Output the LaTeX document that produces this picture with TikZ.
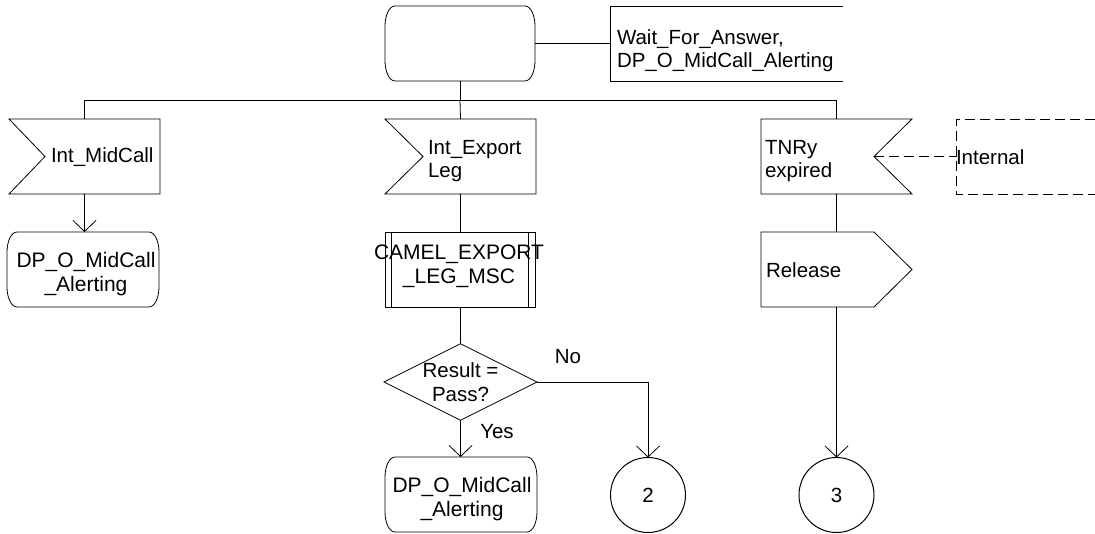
\documentclass[tikz,border=0pt]{standalone}
\usepackage{fontspec}
\setmainfont{Liberation Sans}
\usetikzlibrary{shapes.geometric,arrows.meta,calc}
\newcommand\drawstateoutline[1]{%
  \draw[ln] ($(#1.north west)+(10,0)$) -- ($(#1.north east)-(10,0)$)
    .. controls ($(#1.north east)-(4,0)$) and ($(#1.north east)+(0,10)$) .. ($(#1.north east)+(0,20)$)
    -- ($(#1.south east)-(0,20)$)
    .. controls ($(#1.south east)-(0,10)$) and ($(#1.south east)-(4,0)$) .. ($(#1.south east)-(10,0)$)
    -- ($(#1.south west)+(10,0)$)
    .. controls ($(#1.south west)+(4,0)$) and ($(#1.south west)-(0,10)$) .. ($(#1.south west)-(0,20)$)
    -- ($(#1.north west)+(0,20)$)
    .. controls ($(#1.north west)+(0,10)$) and ($(#1.north west)+(4,0)$) .. ($(#1.north west)+(10,0)$) -- cycle;}
\begin{document}
\begin{tikzpicture}[x=1pt,y=-1pt,
  every node/.style={font=\fontsize{20.5}{23.5}\selectfont, inner sep=0pt, outer sep=0pt},
  ln/.style={line width=0.8pt},
  sbox/.style={rectangle, minimum width=151pt, minimum height=75pt},
  statebox/.style={rectangle, minimum width=152pt, minimum height=75pt},
  bigtext/.style={font=\fontsize{21}{24}\selectfont, align=center},
  decbox/.style={diamond, draw, ln, minimum width=151pt, minimum height=74pt, aspect=2, align=center},
  procbox/.style={rectangle, draw, ln, minimum width=150pt, minimum height=75pt},
  conn/.style={circle, draw, line width=1pt, minimum size=75pt},
  arr/.style={ln, -{Straight Barb[length=11pt,width=23pt,line width=0.8pt]}},
  lbl/.style={anchor=west, align=left},
  dsh/.style={line width=0.8pt, dash pattern=on 10pt off 5pt},
]
\useasboundingbox (0,0) rectangle (1095,533);

% top state and text box
\node[statebox, minimum width=150pt] (top) at (460,43.5) {};
\drawstateoutline{top}
\node[sbox, minimum width=233pt] (wt) at (726.5,43.5) {};
\draw[ln] (wt.north east) -- (wt.north west) -- (wt.south west) -- (wt.south east);
\node[lbl] (wttext) at (617,50.5) {Wait\_For\_Answer,\\DP\_O\_MidCall\_Alerting};
\draw[ln] (top.east) -- (wt.west);

% branch
\coordinate (bl) at (84.5,100);
\coordinate (bm) at (460,100);
\coordinate (br) at (836.5,100);
\draw[ln] (bl) -- (br);
\draw[ln] (top.south) -- (bm);

% left column
\node[sbox] (im) at (84.5,156.5) {};
\draw[ln] (im.north west) -- (im.north east) -- (im.south east) -- (im.south west) -- ($(im.west)+(36,0)$) -- cycle;
\node[lbl] (imtext) at (51,157.5) {Int\_MidCall};
\draw[ln] (bl) -- (im.north);
\node[statebox] (dp1) at (83,269.5) {};
\drawstateoutline{dp1}
\node[bigtext] (dp1text) at (86,274.5) {DP\_O\_MidCall\\\_Alerting};
\draw[arr] (im.south) -- (im.south |- dp1.north);

% middle column
\node[sbox] (ie) at (460.5,156.5) {};
\draw[ln] (ie.north west) -- (ie.north east) -- (ie.south east) -- (ie.south west) -- ($(ie.west)+(38,0)$) -- cycle;
\node[lbl] (ietext) at (428,161) {Int\_Export\\Leg};
\draw[ln] (bm) -- (ie.north);

\node[procbox] (cam) at (460.5,269.5) {};
\node[bigtext] (camtext) at (459,266) {CAMEL\_EXPORT\\\_LEG\_MSC};
\draw[ln] ($(cam.north west)+(6,0)$) -- ($(cam.south west)+(6,0)$);
\draw[ln] ($(cam.north east)-(7,0)$) -- ($(cam.south east)-(7,0)$);
\draw[ln] (ie.south) -- (cam.north);

\node[decbox] (dec) at (460.5,382) {Result =\\Pass?};
\draw[ln] (cam.south) -- (dec.north);

\node[statebox] (dp2) at (461,494.5) {};
\drawstateoutline{dp2}
\node[bigtext] (dp2text) at (462,499.5) {DP\_O\_MidCall\\\_Alerting};
\draw[arr] (dec.south) -- (dec.south |- dp2.north);
\node (yes) at (497,432) {Yes};

\node[conn] (c2) at (648,495) {2};
\draw[arr] (dec.east) -- (c2.north |- dec.east) -- (c2.north);
\node (no) at (568,357) {No};

% right column
\node[sbox] (tn) at (836.5,156.5) {};
\draw[ln] (tn.north west) -- (tn.north east) -- ($(tn.east)-(38,0)$) -- (tn.south east) -- (tn.south west) -- cycle;
\coordinate (tnotch) at ($(tn.east)-(38,0)$);
\node[lbl] (tntext) at (765,161) {TNRy\\expired};
\draw[ln] (br) -- (tn.north);

\node[sbox] (intbox) at (1032,156.5) {};
\draw[dsh] (1095,119) -- (intbox.north west) -- (intbox.south west) -- (1095,194);
\node[lbl] (inttext) at (956,157) {Internal};
\draw[dsh] (tnotch) -- (intbox.west);

\node[sbox] (rel) at (836.5,269.5) {};
\draw[ln] (rel.north west) -- ($(rel.north east)-(38,0)$) -- (rel.east) -- ($(rel.south east)-(38,0)$) -- (rel.south west) -- cycle;
\node[lbl] (reltext) at (766,270) {Release};
\draw[ln] (tn.south) -- (rel.north);

\node[conn] (c3) at (836.5,495) {3};
\draw[arr] (rel.south) -- (c3.north);
\end{tikzpicture}
\end{document}
